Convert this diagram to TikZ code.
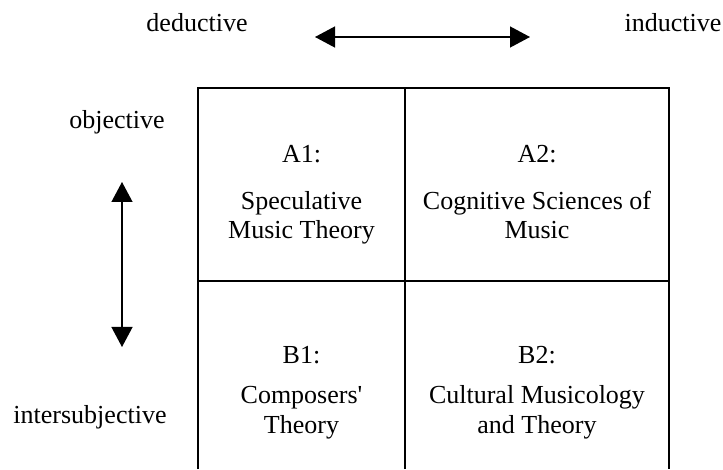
\documentclass[tikz,border=0pt]{standalone}
\usepackage{fontspec}
\setmainfont{Liberation Serif}
\usepackage{tikz}
\usetikzlibrary{arrows.meta}
\usetikzlibrary{calc}

\tikzset{
  lbl/.style={anchor=base, inner sep=0, font=\fontsize{26}{29.5}\selectfont},
  cell/.style={anchor=base, inner sep=0, align=center, font=\fontsize{26}{29.5}\selectfont},
  gridline/.style={black, line width=1.3pt},
  dirarrow/.style={black, line width=1.3pt, {Triangle[length=20pt,width=21pt]}-{Triangle[length=20pt,width=21pt]}}
}

\begin{document}
\begin{tikzpicture}[x=1pt,y=1pt]
    \useasboundingbox (0,0) rectangle (723,469);
    % grid
    \draw[gridline] (198,0)--(198,381)--(669,381)--(669,0);
    \draw[gridline] (405,0)--(405,381);
    \draw[gridline] (198,188)--(669,188);
    % axis labels
    \node[lbl] (ded) at (197,437) {deductive};
    \node[lbl] (ind) at (673,437) {inductive};
    \node[lbl] (obj) at (117,340) {objective};
    \node[lbl] (intsub) at (90,46) {intersubjective};
    \coordinate (hl) at (315,432);
    \coordinate (hr) at (530,432);
    \coordinate (vt) at (122,287);
    \coordinate (vb) at (122,122);
    \draw[dirarrow] (hl)--(hr);
    \draw[dirarrow] (vt)--(vb);
    % cells (base = last line)
    \node[lbl] (aonehead) at (301.5,306) {A1:};
    \node[lbl] (atwohead) at (537,306) {A2:};
    \node[cell] (aone) at (301.5,230) {Speculative\\Music Theory};
    \node[cell] (atwo) at (537,230) {Cognitive Sciences of\\Music};
    \node[lbl] (bonehead) at (301.5,106) {B1:};
    \node[lbl] (btwohead) at (537,106) {B2:};
    \node[cell] (bone) at (301.5,36) {Composers\textquotesingle\\Theory};
    \node[cell] (btwo) at (537,36) {Cultural Musicology\\and Theory};
\end{tikzpicture}
\end{document}
